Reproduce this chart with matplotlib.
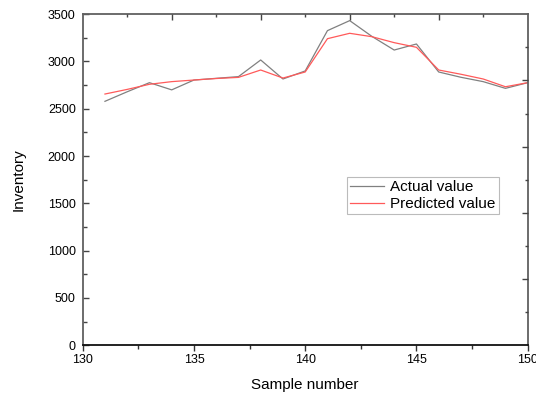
import matplotlib
matplotlib.use("Agg")
import matplotlib.pyplot as plt
from matplotlib.ticker import MultipleLocator, FixedLocator

plt.rcParams['font.family'] = ['Liberation Sans', 'DejaVu Sans']

samples = list(range(131, 151))
actual = [2579, 2680, 2776, 2700, 2804, 2822, 2840, 3016, 2815, 2900,
          3326, 3432, 3265, 3121, 3185, 2889, 2833, 2787, 2716, 2776]
predicted = [2656, 2705, 2759, 2787, 2804, 2820, 2832, 2910, 2825, 2889,
             3241, 3298, 3262, 3199, 3150, 2910, 2865, 2815, 2733, 2776]

fig = plt.figure(figsize=(5.36, 3.94), dpi=100)
ax = fig.add_axes([0.1543, 0.1236, 0.8302, 0.8404])

ax.plot(samples, actual, color='#808080', lw=0.9, label='Actual value')
ax.plot(samples, predicted, color='#ff5a5a', lw=0.9, label='Predicted value')

ax.set_xlim(130, 150)
ax.set_ylim(0, 3500)
ax.xaxis.set_major_locator(MultipleLocator(5))
ax.xaxis.set_minor_locator(MultipleLocator(2.5))
ax.yaxis.set_major_locator(MultipleLocator(500))
ax.yaxis.set_minor_locator(MultipleLocator(250))

ax.tick_params(axis='x', which='major', direction='out', length=4, width=1, labelsize=9, pad=2, color='#333333')
ax.tick_params(axis='x', which='minor', direction='out', length=3, width=1, color='#333333')
ax.tick_params(axis='y', which='major', direction='in', length=4, width=1, labelsize=9, pad=5, color='#444444')
ax.tick_params(axis='y', which='minor', direction='in', length=3, width=1, color='#444444')

for s in ['left', 'top', 'right']:
    ax.spines[s].set_color('#606060')
    ax.spines[s].set_linewidth(1.3)
ax.spines['bottom'].set_color('#111111')
ax.spines['bottom'].set_linewidth(1.3)

ax.set_xlabel('Sample number', fontsize=11, labelpad=9)
ax.set_ylabel('Inventory', fontsize=11, labelpad=16)

# top axis ticks
axt = ax.twiny()
axt.set_xlim(0, 1)
axt.xaxis.set_major_locator(FixedLocator([0.2, 0.4, 0.6, 0.8]))
axt.xaxis.set_minor_locator(FixedLocator([0.1, 0.3, 0.5, 0.7, 0.9]))
axt.tick_params(axis='x', which='major', direction='in', length=4, width=1, labeltop=False, color='#444444')
axt.tick_params(axis='x', which='minor', direction='in', length=2.5, width=1, color='#444444')

# right axis ticks
axr = ax.twinx()
axr.set_ylim(0, 1)
axr.yaxis.set_major_locator(FixedLocator([0.2, 0.4, 0.6, 0.8]))
axr.yaxis.set_minor_locator(FixedLocator([0.1, 0.3, 0.5, 0.7, 0.9]))
axr.tick_params(axis='y', which='major', direction='in', length=4, width=1, labelright=False, color='#444444')
axr.tick_params(axis='y', which='minor', direction='in', length=2.5, width=1, color='#444444')
for a in (axt, axr):
    for s in a.spines.values():
        s.set_visible(False)

leg = ax.legend(loc='upper left', bbox_to_anchor=(0.5946, 0.5076), fontsize=11,
                frameon=True, fancybox=False, edgecolor='#aaaaaa',
                handlelength=2.2, handletextpad=0.4, borderpad=0.2,
                labelspacing=0.2, borderaxespad=0)
leg.get_frame().set_linewidth(0.8)

fig.savefig('out.png', dpi=100)
